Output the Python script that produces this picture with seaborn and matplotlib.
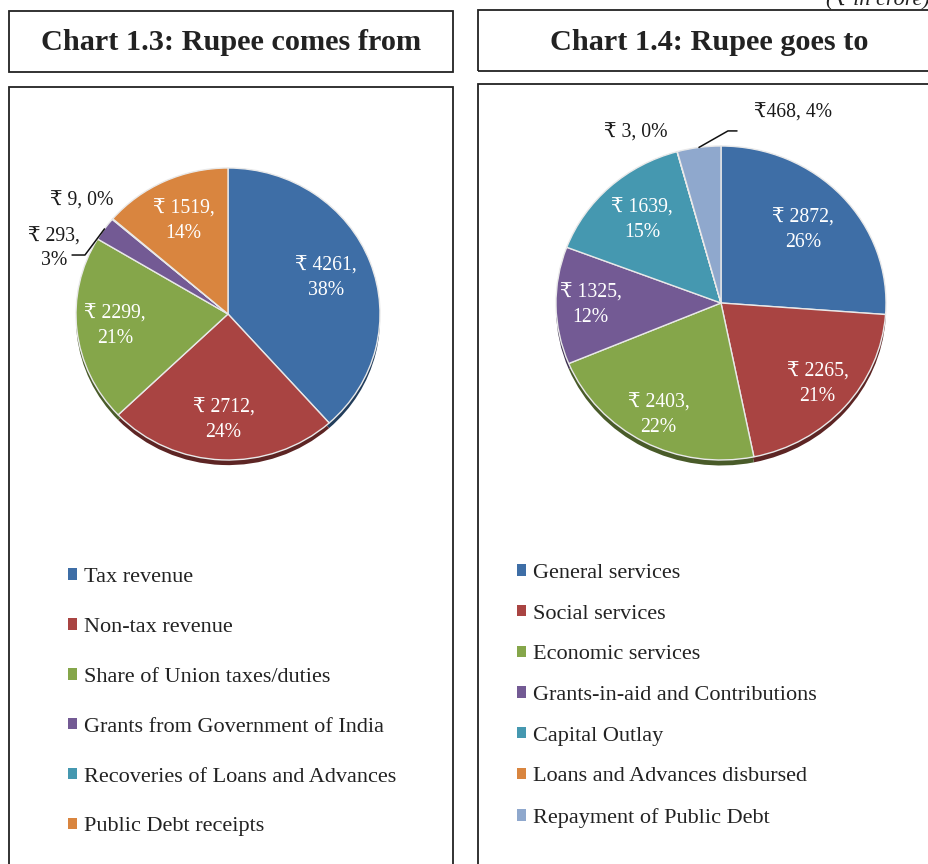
import numpy as np
import pandas as pd
import seaborn as sns
import matplotlib
matplotlib.use("Agg")
import matplotlib.pyplot as plt
from matplotlib.patches import Rectangle, Patch
from matplotlib.lines import Line2D

# ---------------- data ----------------
left_title = "Chart 1.3: Rupee comes from"
left_categories = ["Tax revenue", "Non-tax revenue", "Share of Union taxes/duties",
                   "Grants from Government of India", "Recoveries of Loans and Advances",
                   "Public Debt receipts"]
left_values = [4261, 2712, 2299, 293, 9, 1519]

right_title = "Chart 1.4: Rupee goes to"
right_categories = ["General services", "Social services", "Economic services",
                    "Grants-in-aid and Contributions", "Capital Outlay",
                    "Loans and Advances disbursed", "Repayment of Public Debt"]
right_values = [2872, 2265, 2403, 1325, 1639, 3, 468]

unit_note = "(₹ in crore)"

# ---------------- style ----------------
sns.set_theme(style="white")
FAM = ["Liberation Serif", "DejaVu Serif", "Noto Sans", "DejaVu Sans"]
plt.rcParams["font.family"] = FAM
palette = sns.color_palette(["#3E6EA6", "#A94442", "#85A64A", "#735A94",
                             "#4598B0", "#D9853F", "#8FA8CD"])
W, H = 929, 864
fig = plt.figure(figsize=(W / 100, H / 100), dpi=100)
fig.patch.set_facecolor("white")

LBL_FS = 14.2


def fx(x):
    return x / W


def fy(y):
    return 1 - y / H


def box(x0, y0, x1, y1):
    fig.add_artist(Rectangle((fx(x0), fy(y1)), fx(x1) - fx(x0), fy(y0) - fy(y1),
                             transform=fig.transFigure, fill=False,
                             lw=1.3, ec="#222222"))


def pie_axes(cx, cy, rx, ry):
    ax = fig.add_axes([fx(cx - rx), fy(cy + ry), 2 * rx / W, 2 * ry / H])
    return ax


def darker(c, f=0.55):
    return tuple(np.array(c) * f)


def draw_pie(ax, df, label_r, outside, leader):
    vals = df["value"].to_numpy()
    total = vals.sum()
    cols = palette[:len(vals)]
    sh, _ = ax.pie(vals, colors=[darker(c) for c in cols], startangle=90,
                   counterclock=False, center=(0, -0.035),
                   wedgeprops=dict(linewidth=0))
    wedges, _ = ax.pie(vals, colors=cols, startangle=90, counterclock=False,
                       wedgeprops=dict(edgecolor="#e9e9e9", linewidth=1.0))
    for w in list(sh) + list(wedges):
        w.set_clip_on(False)
    ax.set_aspect("auto")
    ax.set_xlim(-1, 1)
    ax.set_ylim(-1, 1)
    ax.axis("off")
    for i, w in enumerate(wedges):
        v = vals[i]
        pct = int(round(v / total * 100))
        th = np.deg2rad((w.theta1 + w.theta2) / 2)
        if label_r[i] is not None:
            r = label_r[i]
            ax.text(r * np.cos(th), r * np.sin(th), f"₹ {v},\n{pct}%",
                    ha="center", va="center", color="white", fontsize=LBL_FS,
                    linespacing=1.4)
        elif i in outside:
            x, y, fmt = outside[i]
            ax.text(x, y, fmt.format(v=v, p=pct), ha="center", va="center",
                    color="#1a1a1a", fontsize=LBL_FS, linespacing=1.3,
                    clip_on=False)
        if i in leader:
            (x0, y0), (x1, y1) = leader[i]
            ax.add_line(Line2D([x0, x1, np.cos(th)], [y0, y1, np.sin(th)],
                               color="#111111", lw=1.1, clip_on=False))
    return wedges


def legend(cats, x, y, spacing):
    handles = [Patch(facecolor=palette[i], edgecolor="none") for i in range(len(cats))]
    fig.legend(handles, cats, loc="upper left", bbox_to_anchor=(fx(x), fy(y)),
               frameon=False, fontsize=16, handlelength=0.42, handleheight=0.42,
               handletextpad=0.3, labelspacing=spacing, borderpad=0,
               borderaxespad=0, labelcolor="#222222")


# ---------------- frames & titles ----------------
box(9, 11, 453, 72)
box(9, 87, 453, 880)
box(478, 10, 945, 71)
box(478, 84, 945, 880)
fig.text(fx(231), fy(42), left_title, ha="center", va="center",
         fontsize=21.8, fontweight="bold", color="#222222")
fig.text(fx(709), fy(42), right_title, ha="center", va="center",
         fontsize=21.8, fontweight="bold", color="#222222")
fig.text(fx(826), fy(5), unit_note, ha="left", va="baseline",
         fontsize=16, style="italic", color="#222222")

# ---------------- left pie ----------------
left_df = pd.DataFrame({"category": left_categories, "value": left_values})
axL = pie_axes(228, 314, 152, 146)
draw_pie(axL, left_df,
         label_r=[0.69, 0.73, 0.75, None, None, 0.70],
         outside={4: (-0.96, 0.774, "₹ {v}, {p}%"),
                  3: (-1.145, 0.445, "₹ {v},\n{p}%")},
         leader={3: ((-1.026, 0.404), (-0.941, 0.404))})
legend(left_categories, 68, 568, 1.39)

# ---------------- right pie ----------------
right_df = pd.DataFrame({"category": right_categories, "value": right_values})
axR = pie_axes(721, 303, 165, 157)
draw_pie(axR, right_df,
         label_r=[0.68, 0.78, 0.81, 0.79, 0.71, None, None],
         outside={5: (-0.515, 1.083, "₹ {v}, {p}%"),
                  6: (0.436, 1.21, "₹{v}, {p}%")},
         leader={6: ((0.097, 1.096), (0.042, 1.096))})
legend(right_categories, 517, 564, 0.975)

fig.savefig("out.png", dpi=100, facecolor="white")
